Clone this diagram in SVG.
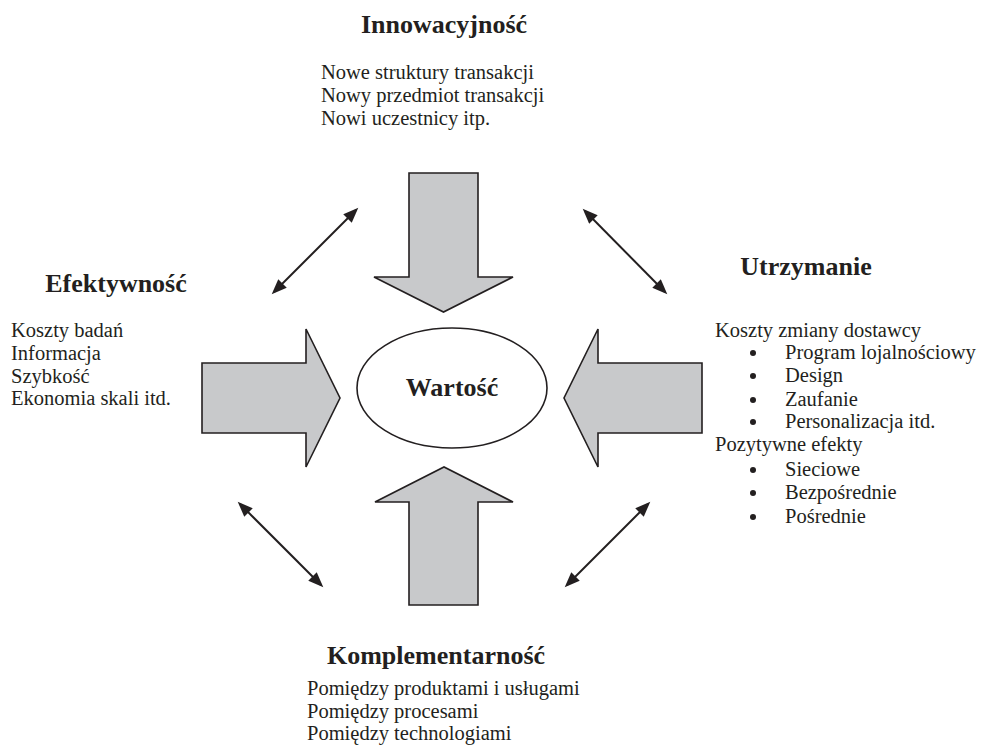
<svg xmlns="http://www.w3.org/2000/svg" width="982" height="752" viewBox="0 0 982 752">
<style>
  .h { font-family: "Liberation Serif", "Times New Roman", serif; font-weight: bold; font-size: 26px; fill: #231f20; text-anchor: middle; }
  .t { font-family: "Liberation Serif", "Times New Roman", serif; font-size: 20.5px; fill: #231f20; }
  .big { fill: #c8c9cb; stroke: #231f20; stroke-width: 1.6; stroke-linejoin: miter; }
  .con { stroke: #231f20; stroke-width: 2; fill: none; marker-start: url(#ah); marker-end: url(#ah); }
</style>
<defs>
  <marker id="ah" markerUnits="userSpaceOnUse" markerWidth="16" markerHeight="12" refX="11" refY="5.5" orient="auto-start-reverse" viewBox="0 0 14 11">
    <path d="M0,0 L14,5.5 L0,11 Z" fill="#231f20"/>
  </marker>
</defs>
<rect width="982" height="752" fill="#ffffff"/>

<g id="innowacyjnosc">
  <text class="h" x="444" y="33">Innowacyjność</text>
  <text class="t" x="321" y="79">Nowe struktury transakcji</text>
  <text class="t" x="321" y="102">Nowy przedmiot transakcji</text>
  <text class="t" x="321" y="125">Nowi uczestnicy itp.</text>
</g>

<g id="efektywnosc">
  <text class="h" x="116" y="292">Efektywność</text>
  <text class="t" x="11" y="337">Koszty badań</text>
  <text class="t" x="11" y="360">Informacja</text>
  <text class="t" x="11" y="383">Szybkość</text>
  <text class="t" x="11" y="405">Ekonomia skali itd.</text>
</g>

<g id="utrzymanie">
  <text class="h" x="806" y="275">Utrzymanie</text>
  <text class="t" x="715" y="337">Koszty zmiany dostawcy</text>
  <circle cx="753" cy="353" r="3" fill="#231f20"/>
  <text class="t" x="785" y="359">Program lojalnościowy</text>
  <circle cx="753" cy="376" r="3" fill="#231f20"/>
  <text class="t" x="785" y="382">Design</text>
  <circle cx="753" cy="400" r="3" fill="#231f20"/>
  <text class="t" x="785" y="406">Zaufanie</text>
  <circle cx="753" cy="422" r="3" fill="#231f20"/>
  <text class="t" x="785" y="428">Personalizacja itd.</text>
  <text class="t" x="715" y="451">Pozytywne efekty</text>
  <circle cx="753" cy="470" r="3" fill="#231f20"/>
  <text class="t" x="785" y="476">Sieciowe</text>
  <circle cx="753" cy="493" r="3" fill="#231f20"/>
  <text class="t" x="785" y="499">Bezpośrednie</text>
  <circle cx="753" cy="517" r="3" fill="#231f20"/>
  <text class="t" x="785" y="523">Pośrednie</text>
</g>

<g id="komplementarnosc">
  <text class="h" x="436" y="664">Komplementarność</text>
  <text class="t" x="307" y="695">Pomiędzy produktami i usługami</text>
  <text class="t" x="307" y="718">Pomiędzy procesami</text>
  <text class="t" x="307" y="740">Pomiędzy technologiami</text>
</g>

<g id="arrow-top"><path class="big" d="M409,173 L478,173 L478,277 L513,277 L443.5,312 L374,277 L409,277 Z"/></g>
<g id="arrow-bottom"><path class="big" d="M409,605 L478,605 L478,502 L513,502 L444,467 L375,502 L409,502 Z"/></g>
<g id="arrow-left"><path class="big" d="M202,363 L306,363 L306,329 L340,398 L306,467 L306,433 L202,433 Z"/></g>
<g id="arrow-right"><path class="big" d="M702,363 L598,363 L598,329 L564,398 L598,467 L598,433 L702,433 Z"/></g>

<g id="wartosc">
  <ellipse cx="452" cy="388" rx="95" ry="60" fill="#ffffff" stroke="#231f20" stroke-width="1.6"/>
  <text class="h" x="452" y="396">Wartość</text>
</g>

<g id="connectors">
  <line class="con" x1="356" y1="210" x2="274" y2="292"/>
  <line class="con" x1="585" y1="211" x2="665" y2="292"/>
  <line class="con" x1="240" y1="504" x2="321" y2="585"/>
  <line class="con" x1="648" y1="504" x2="567" y2="585"/>
</g>
</svg>
